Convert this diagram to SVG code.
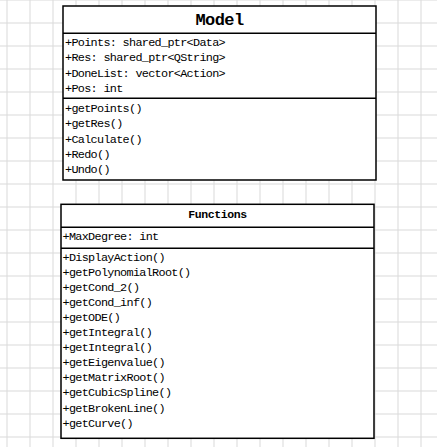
<svg xmlns="http://www.w3.org/2000/svg" width="437" height="447" viewBox="0 0 437 447">
<defs>
<pattern id="grid" x="6.5" y="-0.5" width="23" height="23" patternUnits="userSpaceOnUse">
<path d="M0.5 0V23M0 0.5H23" fill="none" stroke="#d9d9d9" stroke-width="1"/>
</pattern>
</defs>
<style>
.box{fill:#fff;stroke:#000;stroke-width:1.5}
.div{stroke:#000;stroke-width:1.5}
.t{font-family:"Liberation Mono","DejaVu Sans Mono",monospace;font-size:11.8px;letter-spacing:-0.68px;fill:#000}
.title{font-family:"Liberation Mono","DejaVu Sans Mono",monospace;font-weight:bold;fill:#000;text-anchor:middle}
</style>
<rect x="0" y="0" width="437" height="447" fill="#fff"/>
<rect x="0" y="0" width="437" height="447" fill="url(#grid)"/>
<g id="connectors"></g>
<g id="model">
<rect class="box" x="63" y="6" width="313" height="174"/>
<line class="div" x1="63" y1="33.3" x2="376" y2="33.3"/>
<line class="div" x1="63" y1="98.3" x2="376" y2="98.3"/>
<text class="title" x="219.5" y="25" font-size="17" letter-spacing="-0.6">Model</text>
<text class="t" x="65" y="46">+Points: shared_ptr&lt;Data&gt;</text>
<text class="t" x="65" y="61.3">+Res: shared_ptr&lt;QString&gt;</text>
<text class="t" x="65" y="76.6">+DoneList: vector&lt;Action&gt;</text>
<text class="t" x="65" y="92">+Pos: int</text>
<text class="t" x="65" y="112">+getPoints()</text>
<text class="t" x="65" y="127.3">+getRes()</text>
<text class="t" x="65" y="142.6">+Calculate()</text>
<text class="t" x="65" y="158">+Redo()</text>
<text class="t" x="65" y="173.2">+Undo()</text>
</g>
<g id="functions">
<rect class="box" x="61" y="204.3" width="313" height="234"/>
<line class="div" x1="61" y1="227.3" x2="374" y2="227.3"/>
<line class="div" x1="61" y1="248.3" x2="374" y2="248.3"/>
<text class="title" x="217.5" y="218.3" font-size="11.5" letter-spacing="-0.4">Functions</text>
<text class="t" x="62.5" y="240">+MaxDegree: int</text>
<text class="t" x="62.5" y="260.5">+DisplayAction()</text>
<text class="t" x="62.5" y="275.6">+getPolynomialRoot()</text>
<text class="t" x="62.5" y="290.7">+getCond_2()</text>
<text class="t" x="62.5" y="305.8">+getCond_inf()</text>
<text class="t" x="62.5" y="320.9">+getODE()</text>
<text class="t" x="62.5" y="336">+getIntegral()</text>
<text class="t" x="62.5" y="351.1">+getIntegral()</text>
<text class="t" x="62.5" y="366.2">+getEigenvalue()</text>
<text class="t" x="62.5" y="381.3">+getMatrixRoot()</text>
<text class="t" x="62.5" y="396.4">+getCubicSpline()</text>
<text class="t" x="62.5" y="411.5">+getBrokenLine()</text>
<text class="t" x="62.5" y="426.6">+getCurve()</text>
</g>
</svg>
